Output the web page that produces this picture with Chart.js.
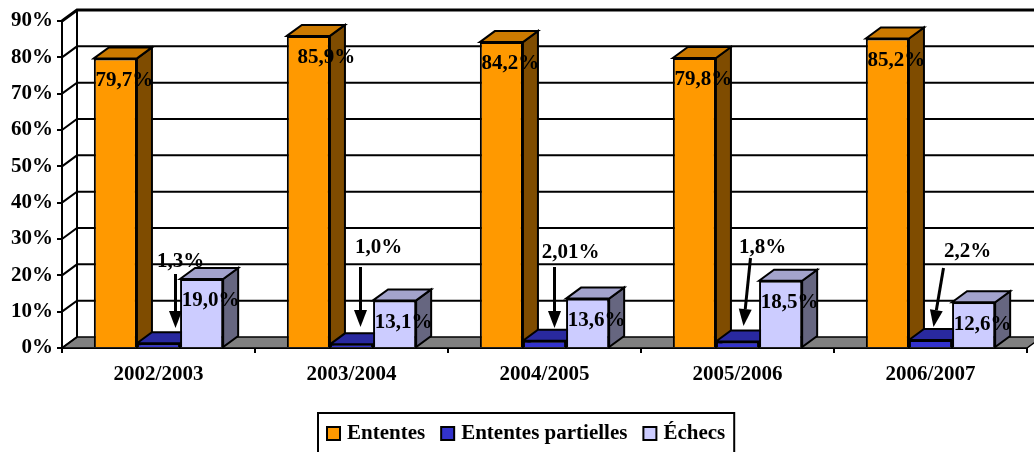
<!DOCTYPE html>
<html>
<head>
<meta charset="utf-8">
<script src="https://cdn.jsdelivr.net/npm/chart.js"></script>
<style>
  body { margin: 0; background: #fff; }
  #wrap { width: 1034px; height: 452px; position: relative; }
</style>
</head>
<body>
<div id="wrap"><canvas id="chart"></canvas></div>
<script>
const years = ['2002/2003', '2003/2004', '2004/2005', '2005/2006', '2006/2007']
const ententes = [79.7, 85.9, 84.2, 79.8, 85.2]
const partielles = [1.3, 1.0, 2.01, 1.8, 2.2]
const echecs = [19.0, 13.1, 13.6, 18.5, 12.6]
const seriesNames = ['Ententes', 'Ententes partielles', 'Échecs']

// label text as printed on the chart (comma decimals)
const partiellesText = ['1,3%', '1,0%', '2,01%', '1,8%', '2,2%']
const fmt = (v) => v.toFixed(1).replace('.', ',') + '%'

// small horizontal nudges of the orange value labels
const ententesNudge = [0, 9, 0, 0, 0]

// callouts for the thin blue bars: offsets from bar centre / zero line
const callouts = [
  { label: [22, -86], from: [17, -74], to: [17, -20] },
  { label: [27, -100], from: [9, -81], to: [9, -21] },
  { label: [26, -95], from: [10, -81], to: [10, -20] },
  { label: [25, -100], from: [13, -90], to: [6, -22] },
  { label: [37, -96], from: [13, -80], to: [3, -21] }
]

const FONT = "'Times New Roman', 'Liberation Serif', serif"
const DX = 15, DY = -11

const faces = [
  { front: '#FF9900', top: '#CC7A00', side: '#7F4C00' },
  { front: '#3333CC', top: '#29299F', side: '#1A1A66' },
  { front: '#CCCCFF', top: '#A3A3CC', side: '#666680' }
]

const poly = (ctx, pts, fill) => {
  ctx.beginPath()
  ctx.moveTo(pts[0][0], pts[0][1])
  for (let i = 1; i < pts.length; i++) ctx.lineTo(pts[i][0], pts[i][1])
  ctx.closePath()
  if (fill) { ctx.fillStyle = fill; ctx.fill() }
  ctx.stroke()
}

const box3d = {
  id: 'box3d',
  beforeDatasetsDraw(chart) {
    const ctx = chart.ctx
    const ca = chart.chartArea
    const ys = chart.scales.y
    ctx.save()
    ctx.strokeStyle = '#000'
    ctx.lineJoin = 'miter'
    // floor
    ctx.lineWidth = 1.5
    poly(ctx, [[ca.left, ca.bottom], [ca.left + DX, ca.bottom + DY], [ca.right + DX, ca.bottom + DY], [ca.right, ca.bottom]], '#808080')
    // walls + gridlines
    ys.ticks.forEach((t) => {
      const y = ys.getPixelForValue(t.value)
      ctx.lineWidth = t.value === 90 ? 3 : 2
      ctx.beginPath()
      ctx.moveTo(ca.left, y)
      ctx.lineTo(ca.left + DX, y + DY)
      if (t.value > 0) ctx.lineTo(ca.right + DX + 20, y + DY)
      ctx.stroke()
    })
    ctx.lineWidth = 2
    ctx.beginPath()
    ctx.moveTo(ca.left + DX, ca.top + DY)
    ctx.lineTo(ca.left + DX, ca.bottom + DY)
    ctx.stroke()

    // side and top faces of the bars, left to right
    ctx.lineWidth = 2
    const n = chart.data.labels.length
    for (let i = 0; i < n; i++) {
      chart.data.datasets.forEach((ds, d) => {
        const bar = chart.getDatasetMeta(d).data[i]
        const l = bar.x - bar.width / 2, r = bar.x + bar.width / 2
        const top = bar.y, base = bar.base
        poly(ctx, [[r, top], [r + DX, top + DY], [r + DX, base + DY], [r, base]], faces[d].side)
        poly(ctx, [[l, top], [l + DX, top + DY], [r + DX, top + DY], [r, top]], faces[d].top)
      })
    }
    ctx.restore()
  },
  afterDatasetsDraw(chart) {
    const ctx = chart.ctx
    const ys = chart.scales.y
    const zero = ys.getPixelForValue(0)
    ctx.save()
    ctx.fillStyle = '#000'
    ctx.strokeStyle = '#000'
    ctx.font = 'bold 21px ' + FONT
    ctx.textAlign = 'center'
    ctx.textBaseline = 'middle'
    // value labels on the tall bars
    ;[0, 2].forEach((d) => {
      const data = chart.data.datasets[d].data
      chart.getDatasetMeta(d).data.forEach((bar, i) => {
        const nudge = d === 0 ? ententesNudge[i] : 0
        ctx.fillText(fmt(data[i]), bar.x + 9 + nudge, bar.y + 22)
      })
    })
    // callouts with arrows for the thin bars
    chart.getDatasetMeta(1).data.forEach((bar, i) => {
      const c = callouts[i]
      ctx.fillText(partiellesText[i], bar.x + c.label[0], zero + c.label[1])
      const x0 = bar.x + c.from[0], y0 = zero + c.from[1]
      const x1 = bar.x + c.to[0], y1 = zero + c.to[1]
      const ang = Math.atan2(y1 - y0, x1 - x0)
      const hl = 17, hw = 6.5
      const bx = x1 - hl * Math.cos(ang), by = y1 - hl * Math.sin(ang)
      ctx.lineWidth = 3
      ctx.beginPath()
      ctx.moveTo(x0, y0)
      ctx.lineTo(bx, by)
      ctx.stroke()
      ctx.beginPath()
      ctx.moveTo(x1, y1)
      ctx.lineTo(bx + hw * Math.sin(ang), by - hw * Math.cos(ang))
      ctx.lineTo(bx - hw * Math.sin(ang), by + hw * Math.cos(ang))
      ctx.closePath()
      ctx.fill()
    })
    ctx.restore()
  },
  afterDraw(chart) {
    // boxed legend below the axis
    const ctx = chart.ctx
    ctx.save()
    ctx.font = 'bold 21px ' + FONT
    ctx.textBaseline = 'middle'
    ctx.textAlign = 'left'
    const sq = 13, gapText = 7, gapItem = 16, pad = 9
    const widths = seriesNames.map((s) => ctx.measureText(s).width)
    let total = pad * 2
    widths.forEach((w, i) => { total += sq + gapText + w + (i < widths.length - 1 ? gapItem : 0) })
    const left = Math.round(526 - total / 2), top = 413
    ctx.lineWidth = 2
    ctx.strokeStyle = '#000'
    ctx.strokeRect(left, top, total, 50)
    let x = left + pad
    const cy = 433
    seriesNames.forEach((s, i) => {
      ctx.fillStyle = faces[i].front
      ctx.fillRect(x, cy - 6, sq, sq)
      ctx.lineWidth = 2
      ctx.strokeRect(x, cy - 6, sq, sq)
      x += sq + gapText
      ctx.fillStyle = '#000'
      ctx.fillText(s, x, cy + 1)
      x += widths[i] + gapItem
    })
    ctx.restore()
  }
}

new Chart(document.getElementById('chart'), {
  type: 'bar',
  data: {
    labels: years,
    datasets: [ententes, partielles, echecs].map((values, d) => ({
      label: seriesNames[d],
      data: values,
      backgroundColor: faces[d].front,
      borderColor: '#000',
      borderWidth: 2,
      categoryPercentage: 0.67,
      barPercentage: 1
    }))
  },
  options: {
    responsive: true,
    maintainAspectRatio: false,
    animation: false,
    layout: { padding: { top: 21, right: 7, left: 0, bottom: 0 } },
    plugins: {
      legend: { display: false },
      tooltip: { enabled: false }
    },
    scales: {
      x: {
        afterFit: (scale) => { scale.height = 104 },
        grid: { offset: true, drawOnChartArea: false, drawTicks: true, tickLength: 5, color: '#000', lineWidth: 2 },
        border: { display: true, color: '#000', width: 2 },
        ticks: { color: '#000', padding: 9, maxRotation: 0, font: { family: FONT, size: 21, weight: 'bold' } }
      },
      y: {
        min: 0,
        max: 90,
        afterFit: (scale) => { scale.width = 62 },
        grid: { drawOnChartArea: false, drawTicks: true, tickLength: 5, color: '#000', lineWidth: 2 },
        border: { display: true, color: '#000', width: 2 },
        ticks: { stepSize: 10, color: '#000', padding: 4, callback: (v) => v + '%', font: { family: FONT, size: 21, weight: 'bold' } }
      }
    }
  },
  plugins: [box3d]
})
</script>
</body>
</html>
